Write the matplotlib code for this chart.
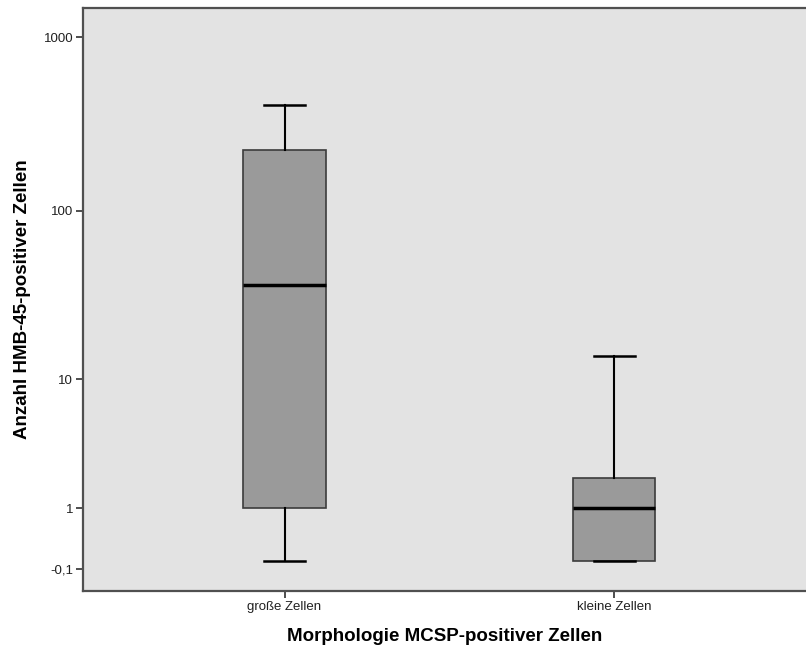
import matplotlib
matplotlib.use("Agg")
import matplotlib.pyplot as plt
import numpy as np

plt.rcParams['font.family'] = ['Liberation Sans', 'DejaVu Sans']

# box summaries per group (Anzahl HMB-45-positiver Zellen)
groups = ["große Zellen", "kleine Zellen"]
whisker_low = [0, 0]
q1 = [1, 0]
median = [37, 1]
q3 = [225, 2]
whisker_high = [405, 14]

yticks = [-0.1, 1, 10, 100, 1000]
ytick_labels = ["-0,1", "1", "10", "100", "1000"]

fig = plt.figure(figsize=(8.06, 6.55), dpi=100)
W, H = 806, 655
ax = fig.add_axes([83 / W, (H - 591) / H, 1 - 83 / W, (591 - 8) / H])
ax.set_facecolor("#e3e3e3")

# log scale shifted by one so that zero counts fit
ax.set_yscale("function", functions=(lambda y: np.log10(np.clip(y + 1, 1e-9, None)),
                                      lambda t: 10 ** t - 1))

stats = []
for i, g in enumerate(groups):
    stats.append(dict(label=g, whislo=whisker_low[i], q1=q1[i], med=median[i],
                      q3=q3[i], whishi=whisker_high[i], fliers=[]))

ax.bxp(stats, positions=[1, 2], widths=0.25, patch_artist=True, showfliers=False,
       boxprops=dict(facecolor="#9a9a9a", edgecolor="#3c3c3c", linewidth=1.2),
       medianprops=dict(color="black", linewidth=2.5),
       whiskerprops=dict(color="black", linewidth=1.5),
       capprops=dict(color="black", linewidth=1.8),
       capwidths=0.125)

ax.set_xlim(1 - (284.5 - 83) / 329.7, 2 + (806 - 614.2) / 329.7)
ax.set_ylim(10 ** -0.1724 - 1, 10 ** 3.1667 - 1)

ax.set_yticks(yticks)
ax.set_yticklabels(ytick_labels)
ax.yaxis.set_minor_locator(matplotlib.ticker.NullLocator())
ax.set_xticks([1, 2])
ax.set_xticklabels(groups)

for s in ["left", "top", "bottom"]:
    ax.spines[s].set_color("#505050")
    ax.spines[s].set_linewidth(1.6)
ax.spines["right"].set_visible(False)

ax.tick_params(axis="both", direction="out", length=5, width=1.2, color="#303030",
               labelsize=9.5, labelcolor="#202020", pad=2)

ax.set_xlabel("Morphologie MCSP-positiver Zellen", fontsize=13.5, fontweight="bold", labelpad=11)
ax.set_ylabel("Anzahl HMB-45-positiver Zellen", fontsize=13.5, fontweight="bold", labelpad=9)

fig.savefig("out.png", dpi=100)
